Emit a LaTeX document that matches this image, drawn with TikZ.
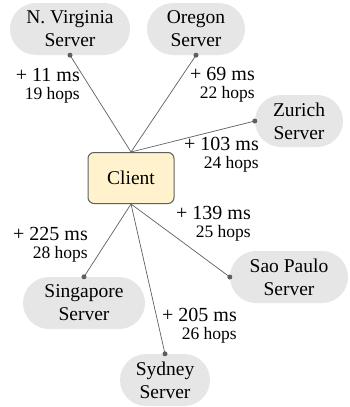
\documentclass[tikz,border=0pt]{standalone}
\usepackage{fontspec}
\setmainfont{Liberation Serif}

\definecolor{pillgray}{HTML}{E6E6E6}
\definecolor{clientfill}{HTML}{FFF2CC}
\definecolor{linkgray}{HTML}{5F5F5F}
\newcommand{\hopsfont}{\fontsize{17.5}{18}\selectfont}

\begin{document}
\begin{tikzpicture}[x=1pt,y=-1pt,
	server/.style={fill=pillgray, rounded corners=26pt, minimum height=52pt,
		inner sep=0pt, align=center, font=\fontsize{19.5}{23}\selectfont},
	client/.style={draw=linkgray, fill=clientfill, rounded corners=6pt, line width=1pt,
		minimum width=86pt, minimum height=51pt, font=\fontsize{19.5}{23}\selectfont},
	link/.style={linkgray, line width=0.7pt},
	lat/.style={anchor=east, align=right, inner sep=0pt, font=\fontsize{20}{18}\selectfont}]
\useasboundingbox (0,0) rectangle (349,407);

\node(client)	[client]	at (131,178)	{Client};

\node(virginia)	[server, minimum width=120pt]	at (70,29)	{N. Virginia\\Server};
\node(oregon)	[server, minimum width=98pt]	at (196,29)	{Oregon\\Server};
\node(zurich)	[server, minimum width=88pt]	at (299,121)	{Zurich\\Server};
\node(saopaulo)	[server, minimum width=118pt]	at (289,277)	{Sao Paulo\\Server};
\node(singapore)	[server, minimum width=122pt]	at (84,303)	{Singapore\\Server};
\node(sydney)	[server, minimum width=90pt]	at (165,380)	{Sydney\\Server};

\foreach \s/\a in {virginia/south, oregon/south, zurich/west} {
	\draw [link] (client.north) -- (\s.\a);
	\fill [linkgray] (\s.\a) circle (2.5pt); }

\foreach \s/\a in {saopaulo/west, singapore/north, sydney/north} {
	\draw [link] (client.south) -- (\s.\a);
	\fill [linkgray] (\s.\a) circle (2.5pt); }

\node(lat_virginia)	[lat]	at (80,86)	{+ 11 ms\\{\hopsfont 19 hops}};
\node(lat_oregon)	[lat]	at (255,85)	{+ 69 ms\\{\hopsfont 22 hops}};
\node(lat_zurich)	[lat]	at (259,155)	{+ 103 ms\\{\hopsfont 24 hops}};
\node(lat_saopaulo)	[lat]	at (251,224)	{+ 139 ms\\{\hopsfont 25 hops}};
\node(lat_singapore)	[lat]	at (88,245)	{+ 225 ms\\{\hopsfont 28 hops}};
\node(lat_sydney)	[lat]	at (237,326)	{+ 205 ms\\{\hopsfont 26 hops}};

\end{tikzpicture}
\end{document}
